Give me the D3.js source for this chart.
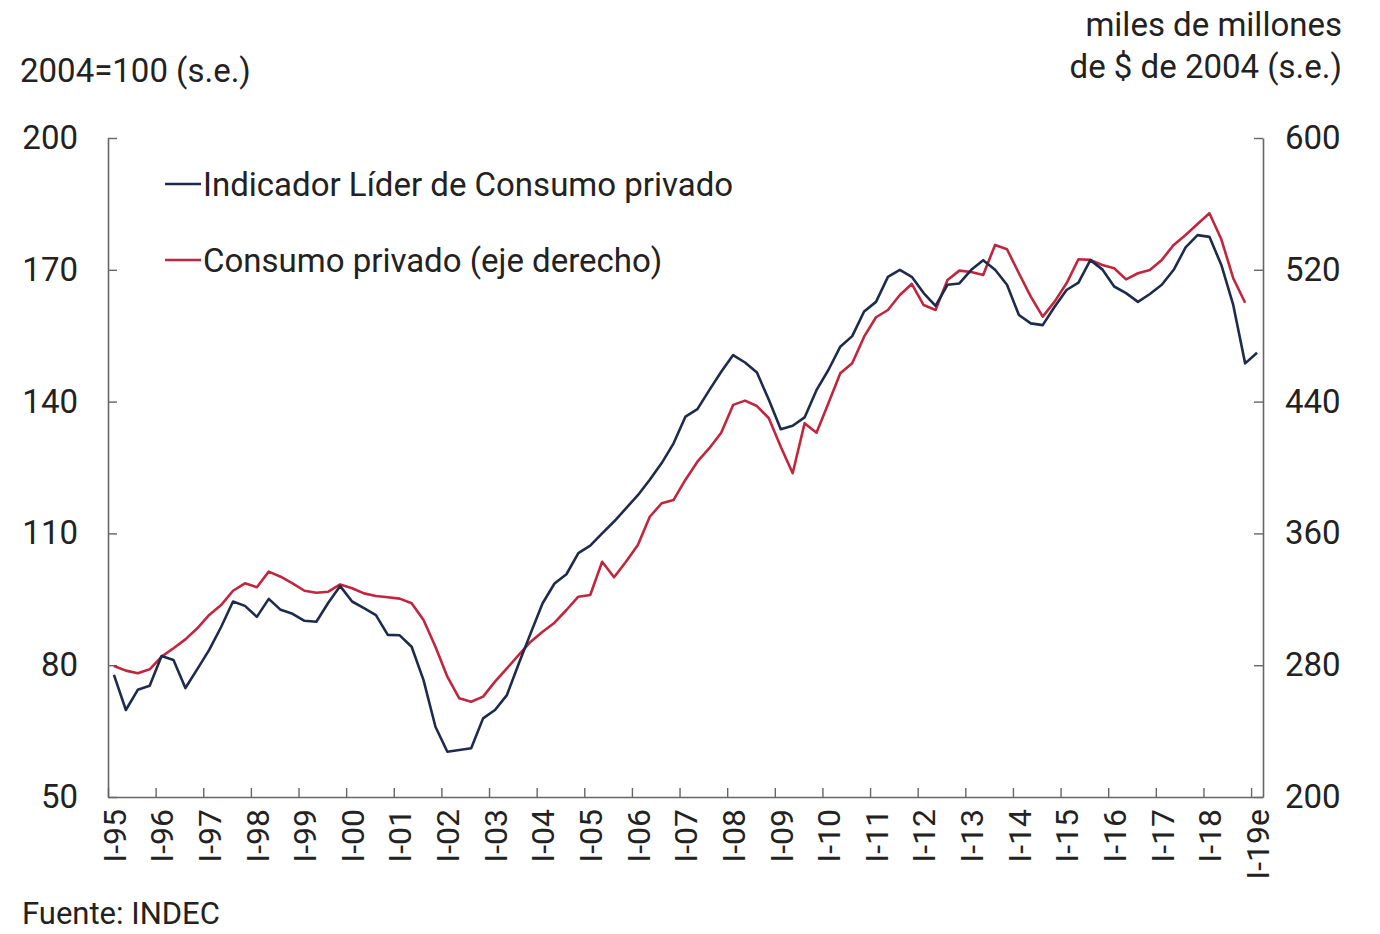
<!DOCTYPE html>
<html>
<head>
<meta charset="utf-8">
<script src="https://cdn.jsdelivr.net/npm/d3@7"></script>
<style>
  body { margin: 0; background: #fff; }
  text { font-family: Roboto, "Open Sans", sans-serif; fill: #222; }
</style>
</head>
<body>
<div id="chart"></div>
<script>
// year tick labels (one per first quarter)
const yearLabels = ["I-95","I-96","I-97","I-98","I-99","I-00","I-01","I-02","I-03","I-04","I-05","I-06","I-07",
  "I-08","I-09","I-10","I-11","I-12","I-13","I-14","I-15","I-16","I-17","I-18","I-19e"];

// Indicador Lider de Consumo privado, 2004=100, quarterly I-95 .. I-19e
const ilc = [77.8, 69.8, 74.4, 75.3, 82.1, 81.2, 74.8, 79.1, 83.5, 88.7, 94.5, 93.5, 91.0, 95.1, 92.6, 91.7,
  90.1, 89.9, 94.2, 98.0, 94.5, 93.0, 91.4, 86.9, 86.8, 84.2, 76.6, 66.0, 60.3, 60.7, 61.1, 67.9,
  69.8, 73.2, 80.4, 87.3, 94.1, 98.6, 100.7, 105.5, 107.2, 110.0, 112.7, 115.7, 118.7, 122.2, 126.0, 130.5,
  136.6, 138.3, 142.6, 146.8, 150.6, 148.9, 146.6, 140.4, 133.7, 134.5, 136.4, 142.6, 147.2, 152.5, 154.9, 160.5,
  162.7, 168.4, 170.0, 168.4, 164.7, 161.8, 166.6, 166.9, 170.0, 172.2, 170.0, 166.6, 159.7, 157.8, 157.4, 161.6,
  165.4, 167.1, 172.2, 170.1, 166.2, 164.7, 162.7, 164.5, 166.6, 170.0, 175.1, 177.9, 177.5, 171.1, 162.0, 148.7,
  151.1];

// Consumo privado, miles de millones de $ de 2004, quarterly I-95 .. IV-18
const consumo = [279.5, 276.7, 275.1, 277.5, 285.2, 290.3, 295.7, 302.4, 310.5, 316.5, 325.2, 329.7, 327.3, 336.8, 333.7, 329.7,
  325.2, 324.0, 324.6, 329.0, 326.7, 323.6, 322.0, 321.2, 320.4, 317.6, 307.4, 291.2, 273.0, 259.9, 257.8, 260.9,
  270.0, 278.1, 286.2, 294.3, 300.3, 305.8, 313.5, 321.6, 322.6, 342.8, 333.4, 342.8, 353.0, 370.1, 378.3, 380.3,
  392.6, 403.5, 411.7, 421.1, 438.0, 440.6, 437.3, 429.9, 412.6, 396.5, 426.8, 421.1, 439.0, 457.2, 463.3, 479.4,
  491.2, 495.6, 504.7, 511.4, 498.6, 495.6, 513.8, 519.5, 518.7, 516.9, 535.1, 532.5, 517.9, 503.7, 491.6, 500.7,
  511.8, 526.4, 526.0, 522.9, 520.9, 514.2, 517.9, 519.9, 526.0, 535.1, 541.1, 547.8, 554.3, 538.5, 514.9, 500.0];

const leftTicks = [50, 80, 110, 140, 170, 200];
const rightTicks = [200, 280, 360, 440, 520, 600];

const seriesNames = ["Indicador Líder de Consumo privado", "Consumo privado (eje derecho)"];
const colors = ["#1d2b4c", "#c0263d"];

const width = 1380, height = 934;
const plot = {left: 108, right: 1263, top: 138, bottom: 797};

const svg = d3.select("#chart").append("svg")
  .attr("width", width)
  .attr("height", height);

// one band per quarter, ticks on band edges
const nQ = ilc.length;
const x = d3.scaleLinear().domain([0, nQ]).range([plot.left, plot.right]);
const yL = d3.scaleLinear().domain([50, 200]).range([plot.bottom, plot.top]);
const yR = d3.scaleLinear().domain([200, 600]).range([plot.bottom, plot.top]);

const axisColor = "#666";
const styleAxis = g => {
  g.select(".domain").attr("stroke", axisColor).attr("stroke-width", 1.6);
  g.selectAll(".tick line").attr("stroke", axisColor).attr("stroke-width", 1.4);
  g.selectAll(".tick text").style("font-size", "33px").attr("fill", "#222");
};

// left axis
svg.append("g")
  .attr("transform", "translate(" + plot.left + ",0)")
  .call(d3.axisLeft(yL).tickValues(leftTicks).tickSizeInner(-9).tickSizeOuter(0).tickPadding(30))
  .call(styleAxis);

// right axis
svg.append("g")
  .attr("transform", "translate(" + plot.right + ",0)")
  .call(d3.axisRight(yR).tickValues(rightTicks).tickSizeInner(-9).tickSizeOuter(0).tickPadding(22))
  .call(styleAxis);

// x axis
const xTicks = d3.range(0, nQ, 4);
const xAxisG = svg.append("g")
  .attr("transform", "translate(0," + plot.bottom + ")")
  .call(d3.axisBottom(x).tickValues(xTicks).tickSizeInner(-9).tickSizeOuter(0)
    .tickFormat(d => yearLabels[d / 4]))
  .call(styleAxis);
xAxisG.selectAll(".tick text")
  .style("font-size", "32px")
  .attr("text-anchor", "end")
  .attr("transform", "rotate(-90)")
  .attr("x", -12)
  .attr("y", 6)
  .attr("dy", "0.35em");

// lines
const lineL = d3.line().x((d, i) => x(i + 0.5)).y(d => yL(d));
const lineR = d3.line().x((d, i) => x(i + 0.5)).y(d => yR(d));

svg.append("path").datum(consumo)
  .attr("d", lineR)
  .attr("fill", "none").attr("stroke", colors[1]).attr("stroke-width", 2.6)
  .attr("stroke-linejoin", "round");

svg.append("path").datum(ilc)
  .attr("d", lineL)
  .attr("fill", "none").attr("stroke", colors[0]).attr("stroke-width", 2.6)
  .attr("stroke-linejoin", "round");

// legend
const legend = svg.append("g").attr("class", "legend");
seriesNames.forEach((name, i) => {
  const ly = 184 + i * 76;
  legend.append("line")
    .attr("x1", 165).attr("x2", 201).attr("y1", ly).attr("y2", ly)
    .attr("stroke", colors[i]).attr("stroke-width", 2.6);
  legend.append("text")
    .attr("x", 203).attr("y", ly).attr("dy", "0.35em")
    .style("font-size", "33px")
    .text(name);
});

// axis titles and source
svg.append("text").attr("x", 20).attr("y", 82).style("font-size", "33px").text("2004=100 (s.e.)");
svg.append("text").attr("x", 1342).attr("y", 36).attr("text-anchor", "end").style("font-size", "33px").text("miles de millones");
svg.append("text").attr("x", 1342).attr("y", 78).attr("text-anchor", "end").style("font-size", "33px").text("de $ de 2004 (s.e.)");
svg.append("text").attr("x", 22).attr("y", 924).style("font-size", "31px").text("Fuente: INDEC");
</script>
</body>
</html>
